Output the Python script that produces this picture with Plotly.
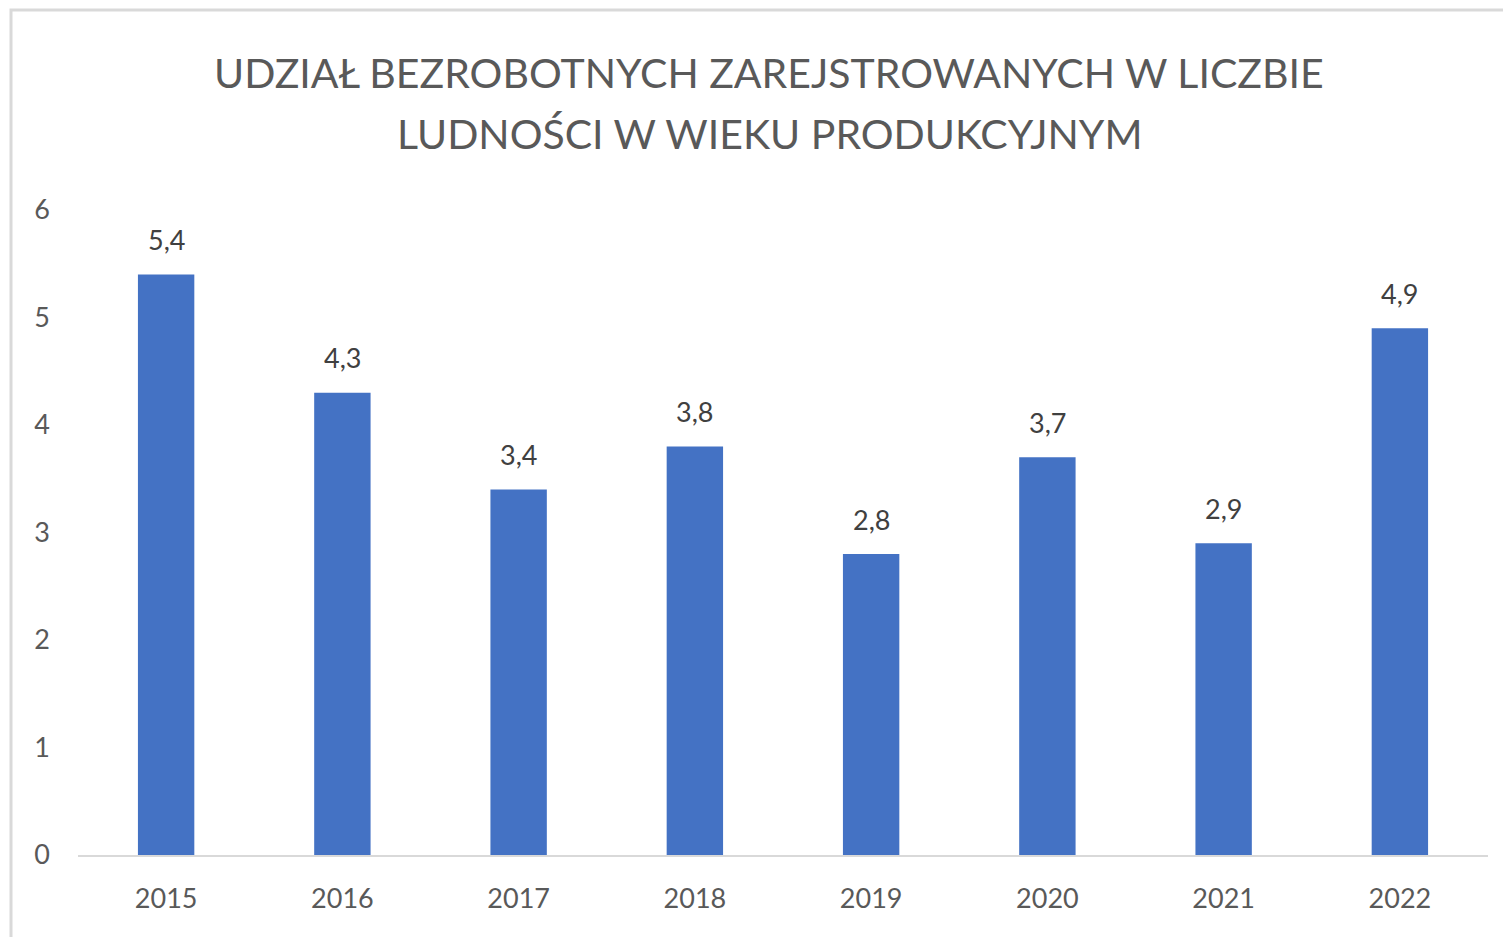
import plotly.graph_objects as go

years = ["2015", "2016", "2017", "2018", "2019", "2020", "2021", "2022"]
values = [5.4, 4.3, 3.4, 3.8, 2.8, 3.7, 2.9, 4.9]
y_ticks = [0, 1, 2, 3, 4, 5, 6]
title_lines = ["UDZIAŁ BEZROBOTNYCH ZAREJSTROWANYCH W LICZBIE",
               "LUDNOŚCI W WIEKU PRODUKCYJNYM"]

OFF = 8  # page body margin
W, H = 1511 - OFF, 937 - OFF
# plot area in screen pixels
SX0, SX1, SY0, SY1 = 78, 1488, 210, 855
L, R = SX0 - OFF, W - (SX1 - OFF)
T, B = SY0 - OFF, H - (SY1 - OFF)
pw, ph = SX1 - SX0, SY1 - SY0

def px_x(x):
    return (x - SX0) / pw

def px_y(y):
    return (SY1 - y) / ph

FONT = "Lato"
GRAY = "#595959"

fig = go.Figure(go.Bar(
    x=years, y=values,
    marker=dict(color="#4472C4", line=dict(width=0)),
    cliponaxis=False, hoverinfo="x+y",
))

annotations = [dict(
    text=f"{v:.1f}".replace(".", ","), x=i, y=v, xref="x", yref="y",
    yshift=35, showarrow=False, xanchor="center", yanchor="middle",
    font=dict(family=FONT, size=27, color="#404040"),
) for i, v in enumerate(values)]

for line, ycen in zip(title_lines, [73, 133]):
    annotations.append(dict(
        text=line, xref="paper", yref="paper", x=px_x(769), y=px_y(ycen),
        xanchor="center", yanchor="middle", showarrow=False,
        font=dict(family=FONT, size=41, color=GRAY),
    ))

fig.update_layout(
    width=W, height=H,
    margin=dict(l=L, r=R, t=T, b=B),
    paper_bgcolor="white", plot_bgcolor="white",
    separators=", ",
    bargap=0.68,
    showlegend=False,
    font=dict(family=FONT, color=GRAY),
    xaxis=dict(type="category", range=[-0.5, len(years) - 0.5],
               showline=True, linecolor="#D9D9D9", linewidth=2,
               showgrid=False, ticks="", tickfont=dict(size=27, color=GRAY),
               ticklabelstandoff=19),
    yaxis=dict(range=[0, 6], tickvals=y_ticks, showgrid=False, zeroline=False,
               showline=False, ticks="", tickfont=dict(size=27, color=GRAY),
               ticklabelstandoff=27),
    annotations=annotations,
    shapes=[dict(type="rect", xref="paper", yref="paper",
                 x0=px_x(11), x1=px_x(1560), y0=px_y(980), y1=px_y(10),
                 line=dict(color="#D9D9D9", width=3), fillcolor="rgba(0,0,0,0)",
                 layer="below")],
)

fig.write_html("out.html")
